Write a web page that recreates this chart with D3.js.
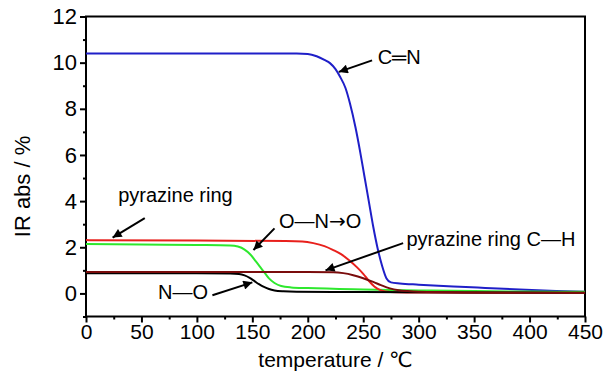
<!DOCTYPE html>
<html><head><meta charset="utf-8">
<script src="https://cdn.jsdelivr.net/npm/d3@7"></script>
<style>
html,body{margin:0;padding:0;background:#fff;}
text{font-family:"Liberation Sans",Arial,"DejaVu Sans",sans-serif;fill:#000;}
</style></head><body>
<svg id="chart" width="609" height="374"></svg>
<script>
// ---- data ----
const xTicks = [0,50,100,150,200,250,300,350,400,450];
const yTicks = [0,2,4,6,8,10,12];
const cnT = [0,100,190,200,208,215,220,225,229,234,238,243,247,251,255,259,263,267,271,275,283,300,337,360,391,424,450];
const cnV = [10.4,10.4,10.4,10.38,10.28,10.12,9.98,9.72,9.4,8.9,8.24,7.2,6.2,5.1,4.0,2.9,1.95,1.2,0.65,0.48,0.43,0.38,0.29,0.24,0.17,0.11,0.07];
const ringT = [0,100,180,195,205,215,223,230,237,244,250,255,260,265,270,280,300,450];
const ringV = [2.31,2.29,2.27,2.25,2.18,2.05,1.88,1.7,1.45,1.15,0.85,0.55,0.3,0.15,0.08,0.05,0.04,0.03];
const nitroT = [0,50,100,130,137,143,148,153,157,161,165,170,176,185,200,250,300,350,400,450];
const nitroV = [2.14,2.12,2.1,2.08,2.03,1.9,1.7,1.4,1.15,0.9,0.65,0.45,0.32,0.26,0.23,0.17,0.13,0.1,0.08,0.07];
const noT = [0,100,130,138,143,148,152,156,160,165,170,178,190,250,350,450];
const noV = [0.87,0.87,0.86,0.84,0.78,0.66,0.53,0.4,0.29,0.19,0.13,0.09,0.07,0.06,0.04,0.03];
const chT = [0,100,200,223,232,241,250,259,266,274,282,290,300,350,450];
const chV = [0.93,0.93,0.93,0.92,0.88,0.79,0.66,0.5,0.36,0.22,0.14,0.1,0.07,0.04,0.02];

const series = [
  {name:"C═N", t:cnT, v:cnV, color:"#1f1fc8"},
  {name:"O—N→O", t:nitroT, v:nitroV, color:"#2ee82e"},
  {name:"pyrazine ring", t:ringT, v:ringV, color:"#e8201c"},
  {name:"N—O", t:noT, v:noV, color:"#000000"},
  {name:"pyrazine ring C—H", t:chT, v:chV, color:"#7a0c0c"}
];

// annotations: label parts, label anchor (data), arrow from/to (data)
const notes = [
  {parts:["C═N"], tx:263, ty:9.93, fx:258, fy:10.1, ax:228, ay:9.6},
  {parts:["pyrazine ring"], tx:29, ty:3.95, fx:53, fy:3.26, ax:24, ay:2.42},
  {parts:["O—N","→","O"], tx:174, ty:2.84, fx:170, fy:2.82, ax:151, ay:1.88},
  {parts:["pyrazine ring C—H"], tx:289, ty:2.05, fx:286, fy:2.18, ax:216, ay:1.0},
  {parts:["N—O"], tx:65, ty:-0.22, fx:114, fy:-0.08, ax:150, ay:0.48}
];

// ---- chart ----
const svg = d3.select("#chart");
const x = d3.scaleLinear().domain([0,450]).range([86,585]);
const y = d3.scaleLinear().domain([-1,12]).range([316.5,16.5]);

svg.append("defs").append("marker")
  .attr("id","ah").attr("viewBox","0 0 10 10").attr("refX",10).attr("refY",5)
  .attr("markerWidth",11).attr("markerHeight",9).attr("markerUnits","userSpaceOnUse")
  .attr("orient","auto")
  .append("path").attr("d","M0,0L10,5L0,10Z").attr("fill","#000");

// frame
svg.append("rect").attr("x",x(0)).attr("y",y(12)).attr("width",x(450)-x(0)).attr("height",y(-1)-y(12))
  .attr("fill","none").attr("stroke","#000").attr("stroke-width",2);

// axes
const xAxis = d3.axisBottom(x).tickValues(xTicks).tickSize(6).tickPadding(2).tickFormat(d3.format("d"));
const xMinor = d3.axisBottom(x).tickValues(d3.range(25,450,50)).tickSize(3).tickFormat("");
const yAxis = d3.axisLeft(y).tickValues(yTicks).tickSize(6).tickPadding(3).tickFormat(d3.format("d"));
const yMinor = d3.axisLeft(y).tickValues([-1,1,3,5,7,9,11]).tickSize(3).tickFormat("");

function style(g, fs){
  g.select(".domain").remove();
  g.selectAll("line").attr("stroke","#000").attr("stroke-width",2);
  g.selectAll("text").style("font-size",fs+"px").attr("fill","#000");
}
svg.append("g").attr("transform",`translate(0,${y(-1)})`).call(xAxis).call(style,21);
svg.append("g").attr("transform",`translate(0,${y(-1)})`).call(xMinor).call(style,21);
svg.append("g").attr("transform",`translate(${x(0)},0)`).call(yAxis).call(style,22);
svg.append("g").attr("transform",`translate(${x(0)},0)`).call(yMinor).call(style,22);

// axis titles
svg.append("text").attr("x",(x(0)+x(450))/2).attr("y",367).attr("text-anchor","middle")
  .style("font-size","21px").text("temperature / ℃");
svg.append("text").attr("transform",`translate(30,${(y(-1)+y(12))/2+20}) rotate(-90)`)
  .attr("text-anchor","middle").style("font-size","22px").text("IR abs / %");

// lines
const line = d3.line().x(d=>x(d[0])).y(d=>y(d[1])).curve(d3.curveMonotoneX);
series.forEach(s=>{
  svg.append("path").datum(s.t.map((t,i)=>[t,s.v[i]]))
    .attr("d",line).attr("fill","none").attr("stroke",s.color).attr("stroke-width",2);
});

// annotations
notes.forEach(n=>{
  svg.append("line").attr("x1",x(n.fx)).attr("y1",y(n.fy)).attr("x2",x(n.ax)).attr("y2",y(n.ay))
    .attr("stroke","#000").attr("stroke-width",2).attr("marker-end","url(#ah)");
  const t = svg.append("text").attr("x",x(n.tx)).attr("y",y(n.ty)).style("font-size","20px");
  n.parts.forEach(p=>{
    const ts = t.append("tspan").text(p);
    if(p==="→") ts.style("font-family","'DejaVu Sans',sans-serif").style("font-size","20px");
  });
});
</script>
</body></html>
